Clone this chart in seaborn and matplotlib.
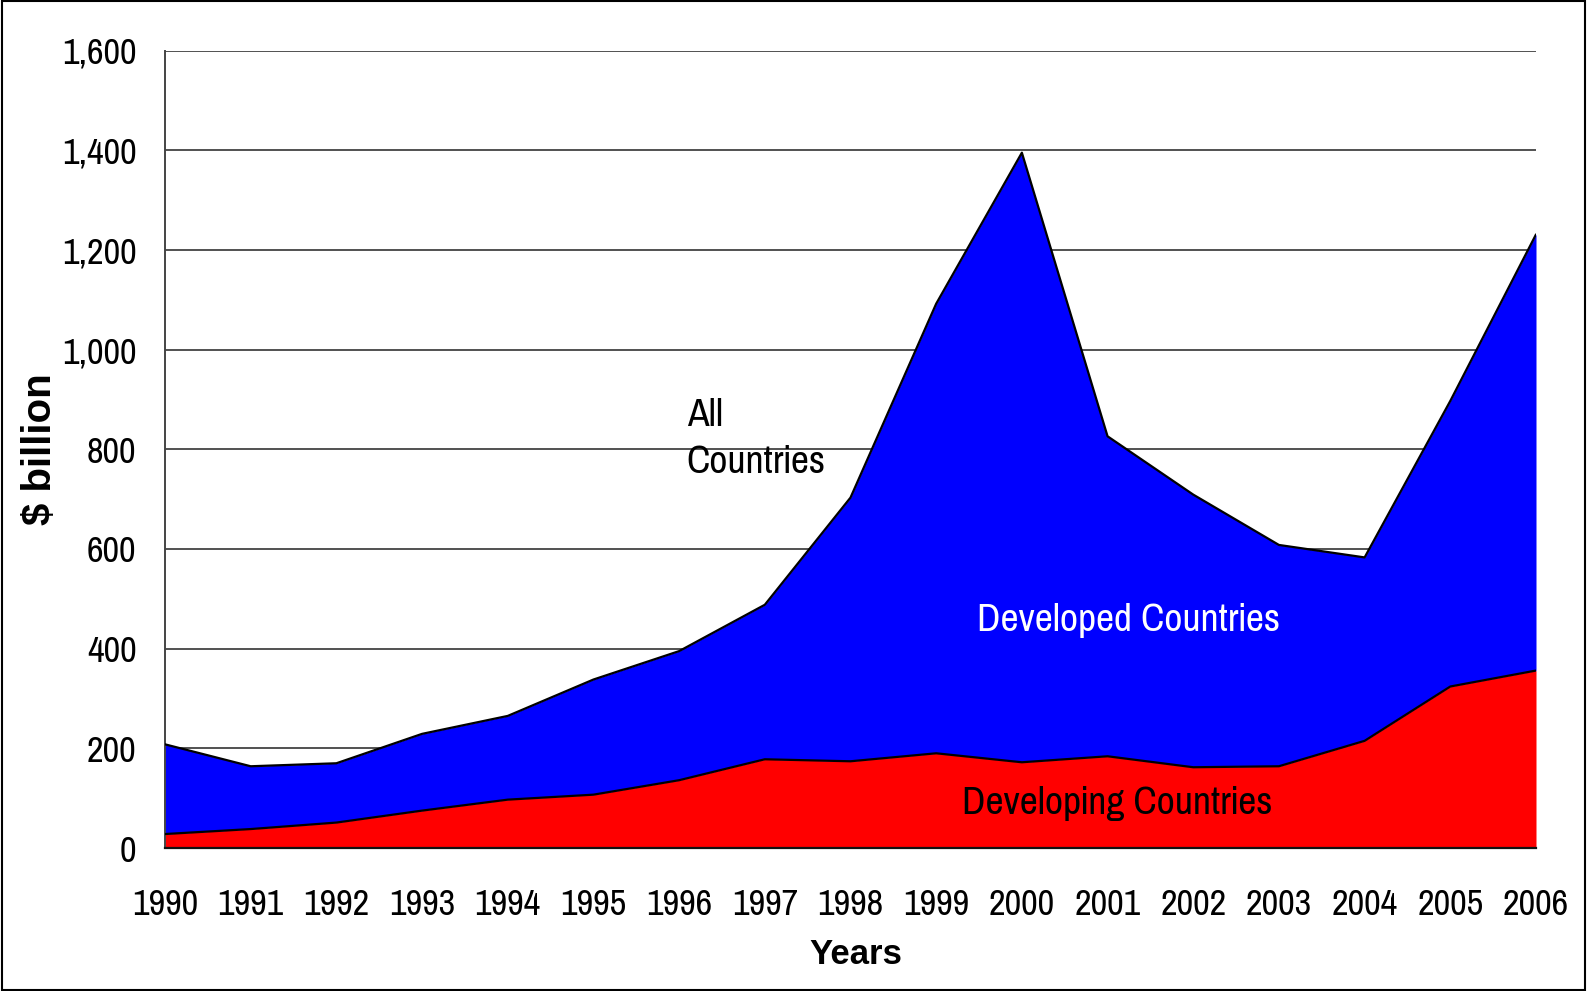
import numpy as np
import pandas as pd
import matplotlib
matplotlib.use("Agg")
import matplotlib.pyplot as plt
import seaborn as sns
from matplotlib.patches import Rectangle

years = [1990, 1991, 1992, 1993, 1994, 1995, 1996, 1997, 1998,
         1999, 2000, 2001, 2002, 2003, 2004, 2005, 2006]
developing = [28, 38, 51, 75, 97, 107, 136, 178, 174, 190, 172, 184, 162, 164, 215, 324, 356]
developed = [180, 126, 119, 154, 168, 231, 259, 310, 529, 902, 1223, 642, 547, 444, 368, 573, 875]
yticks = [0, 200, 400, 600, 800, 1000, 1200, 1400, 1600]
ytick_labels = ["0", "200", "400", "600", "800", "1,000", "1,200", "1,400", "1,600"]

df = pd.DataFrame({"year": years, "developing": developing, "developed": developed})
df["total"] = df["developing"] + df["developed"]

sns.set_style("white")
plt.rcParams["text.color"] = "black"
plt.rcParams["axes.labelcolor"] = "black"
plt.rcParams["xtick.color"] = "black"
plt.rcParams["ytick.color"] = "black"
NARROW = ["Pragati Narrow", "Archivo Narrow", "DejaVu Sans"]
BOLD = ["Liberation Sans", "DejaVu Sans"]
FS_TICK = 28.5
FS_ANN = 31

fig = plt.figure(figsize=(15.87, 9.91), dpi=100)
ax = fig.add_axes([165 / 1587, 1 - 848 / 991, 1371 / 1587, (848 - 50.5) / 991])

ax.fill_between(df["year"], 0, df["developing"], color="#FF0000", linewidth=0, zorder=2)
ax.fill_between(df["year"], df["developing"], df["total"], color="#0000FF", linewidth=0, zorder=2)
sns.lineplot(data=df, x="year", y="developing", ax=ax, color="black", linewidth=1.6, zorder=3)
sns.lineplot(data=df, x="year", y="total", ax=ax, color="black", linewidth=1.6, zorder=3)

ax.set_xlim(1990, 2006)
ax.set_ylim(0, 1600)
ax.set_xticks(years)
ax.set_xticklabels([str(y) for y in years], family=NARROW, fontsize=FS_TICK, color="black")
ax.set_yticks(yticks)
ax.set_yticklabels(ytick_labels, family=NARROW, fontsize=FS_TICK, color="black")
ax.yaxis.grid(True, color="#222222", linewidth=1.1, zorder=1)
ax.xaxis.grid(False)
ax.set_axisbelow(True)

for s in ["top", "right"]:
    ax.spines[s].set_visible(False)
ax.spines["left"].set_color("#444444")
ax.spines["left"].set_linewidth(1.4)
ax.spines["bottom"].set_color("#111111")
ax.spines["bottom"].set_linewidth(1.6)
ax.spines["bottom"].set_zorder(4)

ax.tick_params(axis="x", direction="out", length=8.6, width=1.2, color="#444444", pad=20)
ax.tick_params(axis="y", direction="out", length=8.6, width=1.2, color="#444444", pad=12)

ax.set_xlabel("Years", family=BOLD, fontweight="bold", fontsize=25, va="center", color="black")
ax.xaxis.set_label_coords(0.504, -0.134)
ax.set_ylabel("$ billion", family=BOLD, fontweight="bold", fontsize=29, va="center", color="black")
ax.yaxis.set_label_coords(-0.091, 0.5)

ax.text(1996.09, 847, "All", family=NARROW, fontsize=FS_ANN, ha="left", va="baseline", zorder=5)
ax.text(1996.09, 753, "Countries", family=NARROW, fontsize=FS_ANN, ha="left", va="baseline", zorder=5)
ax.text(2001.25, 436, "Developed Countries", family=NARROW, fontsize=FS_ANN, color="white",
        ha="center", va="baseline", zorder=5)
ax.text(2001.11, 68, "Developing Countries", family=NARROW, fontsize=FS_ANN, color="black",
        ha="center", va="baseline", zorder=5)

fig.patches.append(Rectangle((0.001, 0.001), 0.998, 0.998, transform=fig.transFigure,
                             fill=False, edgecolor="black", linewidth=1.5))

fig.savefig("out.png", dpi=100)
